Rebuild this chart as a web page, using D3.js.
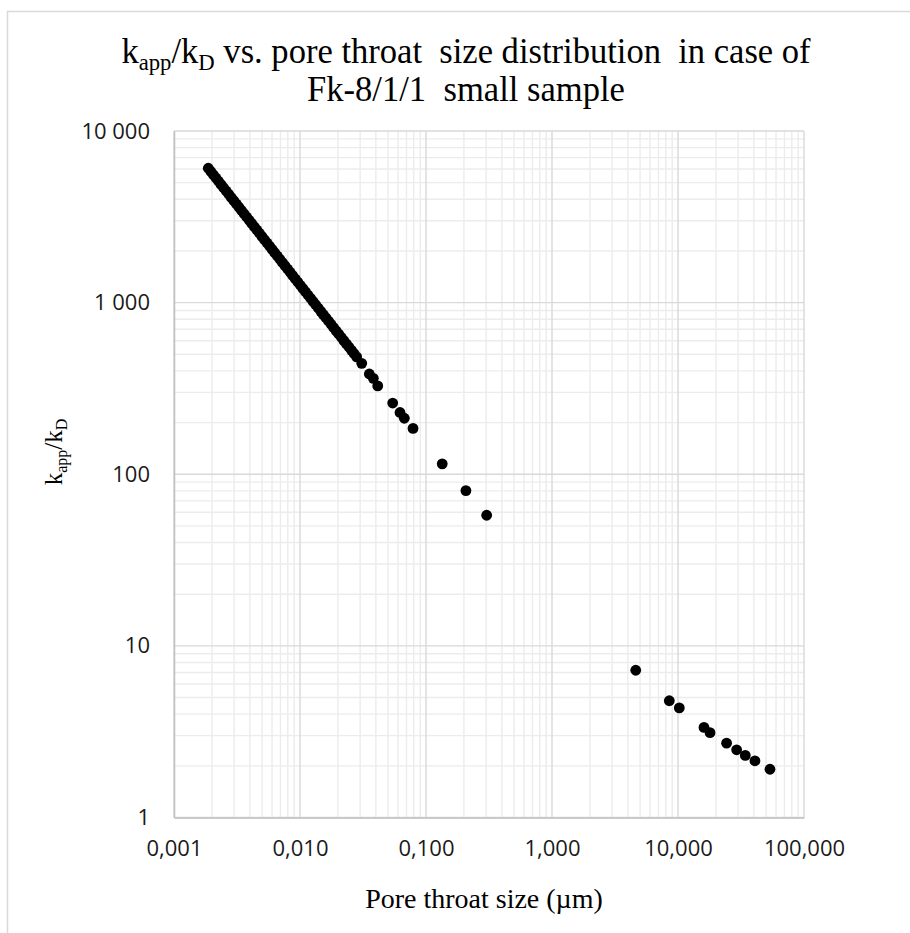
<!DOCTYPE html>
<html>
<head>
<meta charset="utf-8">
<script src="https://cdn.jsdelivr.net/npm/d3@7"></script>
<style>
  body { margin: 0; background: #fff; }
  text { white-space: pre; }
</style>
</head>
<body>
<svg id="chart" width="910" height="933"></svg>
<script>
// Pore throat size (µm) and the matching apparent / Darcy permeability ratio
const poreThroatSize = [
  0.001871, 0.001961, 0.002054, 0.002153, 0.002256, 0.002364, 0.002477, 0.002595, 0.002719, 0.002849,
  0.002986, 0.003128, 0.003278, 0.003435, 0.003599, 0.003771, 0.003952, 0.004141, 0.004339, 0.004547,
  0.004764, 0.004992, 0.005231, 0.005481, 0.005744, 0.006018, 0.006306, 0.006608, 0.006924, 0.007256,
  0.007603, 0.007967, 0.008348, 0.008747, 0.009166, 0.009605, 0.010064, 0.010546, 0.011050, 0.011579,
  0.012133, 0.012714, 0.013322, 0.013960, 0.014628, 0.015328, 0.016061, 0.016830, 0.017635, 0.018479,
  0.019363, 0.020290, 0.021261, 0.022278, 0.023344, 0.024461, 0.025632, 0.026858, 0.028144, 0.030902,
  0.0355, 0.0382, 0.0414, 0.0544, 0.0622, 0.0673, 0.0789, 0.1345, 0.2074, 0.303,
  4.62, 8.53, 10.24, 16.08, 17.95, 24.3, 29.2, 34.2, 40.8, 53.7
];
const kappOverKd = [
  6067, 5808, 5560, 5323, 5096, 4878, 4670, 4471, 4280, 4097,
  3923, 3755, 3595, 3442, 3295, 3154, 3019, 2891, 2767, 2649,
  2536, 2428, 2324, 2225, 2130, 2039, 1952, 1869, 1789, 1713,
  1640, 1570, 1503, 1439, 1377, 1318, 1262, 1208, 1157, 1107,
  1060, 1015, 972, 930, 890, 852, 816, 781, 748, 716,
  685, 656, 628, 601, 575, 551, 527, 505, 483, 443,
  384, 362, 327, 260, 229, 212, 185, 115, 80.3, 57.7,
  7.21, 4.79, 4.35, 3.35, 3.12, 2.71, 2.48, 2.30, 2.14, 1.91
];

const xTickValues = [0.001, 0.01, 0.1, 1, 10, 100];
const xTickLabels = ["0,001", "0,010", "0,100", "1,000", "10,000", "100,000"];
const yTickValues = [1, 10, 100, 1000, 10000];
const yTickLabels = ["1", "10", "100", "1 000", "10 000"];

const svg = d3.select("#chart");
const plot = { left: 174, right: 804, top: 131, bottom: 817.5 };

const x = d3.scaleLog().domain([0.001, 100]).range([plot.left, plot.right]);
const y = d3.scaleLog().domain([1, 10000]).range([plot.bottom, plot.top]);

// chart frame
svg.append("rect")
  .attr("x", 7.5).attr("y", 11.5)
  .attr("width", 1000).attr("height", 1000)
  .attr("fill", "#fff")
  .attr("stroke", "#d9d9d9")
  .attr("stroke-width", 1.5);

const isMajor = v => Math.abs(Math.log10(v) - Math.round(Math.log10(v))) < 1e-9;
const xGrid = x.ticks();
const yGrid = y.ticks();

const grid = svg.append("g");
// minor grid (2..9 within each decade)
grid.selectAll("line.vminor").data(xGrid.filter(v => !isMajor(v))).join("line")
  .attr("x1", d => x(d)).attr("x2", d => x(d))
  .attr("y1", plot.top).attr("y2", plot.bottom)
  .attr("stroke", "#ececec").attr("stroke-width", 1.4);
grid.selectAll("line.hminor").data(yGrid.filter(v => !isMajor(v))).join("line")
  .attr("y1", d => y(d)).attr("y2", d => y(d))
  .attr("x1", plot.left).attr("x2", plot.right)
  .attr("stroke", "#ececec").attr("stroke-width", 1.4);
// major grid (decades)
grid.selectAll("line.vmajor").data(xGrid.filter(isMajor)).join("line")
  .attr("x1", d => x(d)).attr("x2", d => x(d))
  .attr("y1", plot.top).attr("y2", plot.bottom)
  .attr("stroke", "#d9d9d9").attr("stroke-width", 1.4);
grid.selectAll("line.hmajor").data(yGrid.filter(isMajor)).join("line")
  .attr("y1", d => y(d)).attr("y2", d => y(d))
  .attr("x1", plot.left).attr("x2", plot.right)
  .attr("stroke", "#d9d9d9").attr("stroke-width", 1.4);

// axes
const tickFont = "'Open Sans', 'Noto Sans', sans-serif";
const xAxis = svg.append("g")
  .attr("transform", `translate(0,${plot.bottom})`)
  .call(d3.axisBottom(x).tickValues(xTickValues)
    .tickFormat((d, i) => xTickLabels[i]).tickSize(0).tickPadding(23));
xAxis.select(".domain").attr("stroke", "#bfbfbf").attr("stroke-width", 1.5);
xAxis.selectAll("text")
  .attr("font-family", tickFont).attr("font-size", 22).attr("fill", "#1a1a1a");

const yAxis = svg.append("g")
  .attr("transform", `translate(${plot.left},0)`)
  .call(d3.axisLeft(y).tickValues(yTickValues)
    .tickFormat((d, i) => yTickLabels[i]).tickSize(0).tickPadding(24));
yAxis.select(".domain").attr("stroke", "#bfbfbf").attr("stroke-width", 1.5);
yAxis.selectAll("text")
  .attr("font-family", tickFont).attr("font-size", 22).attr("fill", "#1a1a1a");

// data points
svg.append("g").selectAll("circle")
  .data(poreThroatSize.map((v, i) => [v, kappOverKd[i]]))
  .join("circle")
  .attr("cx", d => x(d[0]))
  .attr("cy", d => y(d[1]))
  .attr("r", 5.4)
  .attr("fill", "#000");

// squeeze a text element horizontally about its anchor to a given width
function fitWidth(sel, cx, width) {
  const w = sel.node().getBBox().width;
  const s = width / w;
  sel.attr("transform", `translate(${cx},0) scale(${s},1) translate(${-cx},0)`);
}

const serif = "'Liberation Serif', 'Times New Roman', serif";

// title
const t1 = svg.append("text")
  .attr("x", 466).attr("y", 63.5)
  .attr("text-anchor", "middle")
  .attr("font-family", serif).attr("font-size", 35).attr("fill", "#000");
t1.append("tspan").text("k");
t1.append("tspan").attr("font-size", 23).attr("dy", 7).text("app");
t1.append("tspan").attr("dy", -7).text("/k");
t1.append("tspan").attr("font-size", 23).attr("dy", 7).text("D");
t1.append("tspan").attr("dy", -7).text(" vs. pore throat  size distribution  in case of");
fitWidth(t1, 466, 690);

const t2 = svg.append("text")
  .attr("x", 466).attr("y", 101.5)
  .attr("text-anchor", "middle")
  .attr("font-family", serif).attr("font-size", 35).attr("fill", "#000")
  .text("Fk-8/1/1  small sample");
fitWidth(t2, 466, 318);

// y axis title
const yt = svg.append("text")
  .attr("transform", "translate(61.5,452) rotate(-90)")
  .attr("text-anchor", "middle")
  .attr("font-family", serif).attr("font-size", 25).attr("fill", "#000");
yt.append("tspan").text("k");
yt.append("tspan").attr("font-size", 16).attr("dy", 5).text("app");
yt.append("tspan").attr("dy", -5).text("/k");
yt.append("tspan").attr("font-size", 16).attr("dy", 5).text("D");

// x axis title
svg.append("text")
  .attr("x", 484).attr("y", 907.5)
  .attr("text-anchor", "middle")
  .attr("font-family", serif).attr("font-size", 28).attr("fill", "#000")
  .text("Pore throat size (µm)");
</script>
</body>
</html>
